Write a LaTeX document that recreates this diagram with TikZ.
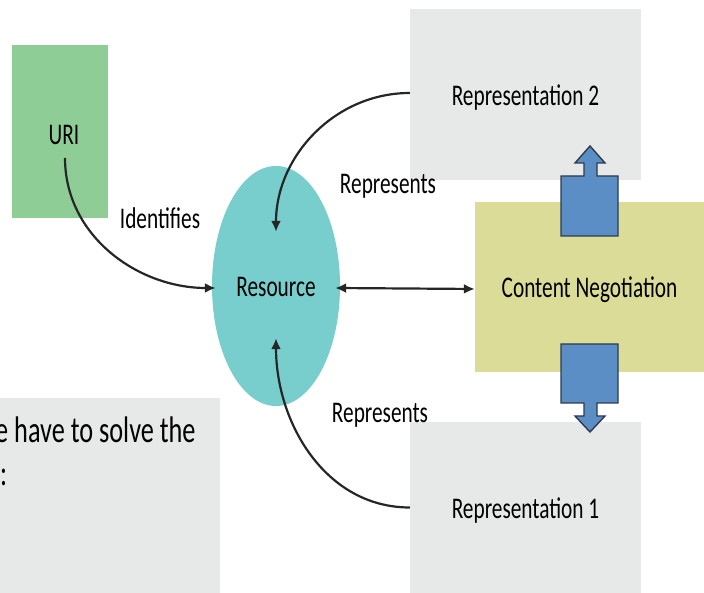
\documentclass[tikz,border=0pt]{standalone}
\usepackage{fontspec}
\setmainfont{Carlito}[FakeStretch=0.71]
\usepackage{tikz}
\usetikzlibrary{shapes,arrows,arrows.meta}
\definecolor{urigreen}{HTML}{8FCD96}
\definecolor{resteal}{HTML}{78CDCD}
\definecolor{negyellow}{HTML}{DBDC98}
\definecolor{repgray}{HTML}{E7E8E8}
\definecolor{fatblue}{HTML}{5B8EC4}
\definecolor{fatedge}{HTML}{2E3B4E}
\tikzstyle{block} = [rectangle, inner sep=0pt, text height=25pt, text depth=3pt,
    minimum height=171pt, minimum width=231pt, font=\fontsize{30}{36}\selectfont]
\tikzstyle{lbl} = [inner sep=0pt, font=\fontsize{30}{36}\selectfont]
\tikzstyle{fatarrow} = [fill=fatblue, draw=fatedge, line width=1.4pt, line join=miter]
\tikzstyle{link} = [line width=2.2pt, draw=black!85]

\begin{document}
\begin{tikzpicture}[x=1pt, y=1pt, >={Latex[length=11pt,width=10pt]}]
        \useasboundingbox (0,0) rectangle (704,593);
        % We start by placing the blocks
        \node [block, fill=urigreen, minimum width=96pt, minimum height=173pt] (uri) at (60,461.5) {};
        \node [lbl] (uritext) at (64,458) {URI};
        \node [block, fill=repgray] (rep2) at (525.5,498.5) {Representation 2};
        \node [block, fill=negyellow, minimum width=229pt, minimum height=170pt] (neg) at (589.5,306) {Content Negotiation};
        \node [block, fill=repgray] (rep1) at (525.5,85.5) {Representation 1};
        \node [ellipse, fill=resteal, minimum width=128pt, minimum height=240pt, inner sep=0pt,
            text height=25pt, text depth=3pt, font=\fontsize{30}{36}\selectfont] (res) at (276,307) {Resource};
        \node [block, fill=repgray, minimum width=220pt, minimum height=195pt] (note) at (110,97.5) {};
        \node [lbl, anchor=base west, font=\fontsize{37}{43}\selectfont] (notea) at (-5,150) {e have to solve the};
        \node [lbl, anchor=base west, font=\fontsize{37}{43}\selectfont] (noteb) at (0,107) {:};

        % the two fat arrows out of the negotiation
        \coordinate (upfoot) at (561,357);
        \coordinate (downfoot) at (561,249);
        \draw [fatarrow] (upfoot) -- ++(0,60) -- ++(23,0) -- ++(0,13) -- ++(-9,0) -- ++(15,17)
            -- ++(15,-17) -- ++(-8,0) -- ++(0,-13) -- ++(21,0) -- ++(0,-60) -- cycle;
        \draw [fatarrow] (downfoot) -- ++(0,-59) -- ++(23,0) -- ++(0,-13) -- ++(-9,0) -- ++(15,-16)
            -- ++(15,16) -- ++(-8,0) -- ++(0,13) -- ++(21,0) -- ++(0,59) -- cycle;

        % Once the nodes are placed, connecting them is easy.
        \coordinate (urifoot) at (65,435);
        \coordinate (restop) at ([yshift=-66pt]res.north);
        \coordinate (resbot) at ([yshift=68pt]res.south);
        \draw [link,->] (urifoot) to[out=-90, in=180] ([xshift=4pt,yshift=-2pt]res.west);
        \draw [link,->] ([yshift=1.5pt]rep2.west) to[out=180, in=90] (restop);
        \draw [link,->] (rep1.west) to[out=180, in=-90] (resbot);
        \draw [link,<->] ([xshift=-5pt,yshift=-2pt]res.east) -- ([yshift=-2pt]neg.west);

        \node [lbl] (ident) at (160,375) {Identifies};
        \node [lbl] (reptop) at (388,407) {Represents};
        \node [lbl] (repbot) at (380,178) {Represents};
    \end{tikzpicture}
\end{document}
